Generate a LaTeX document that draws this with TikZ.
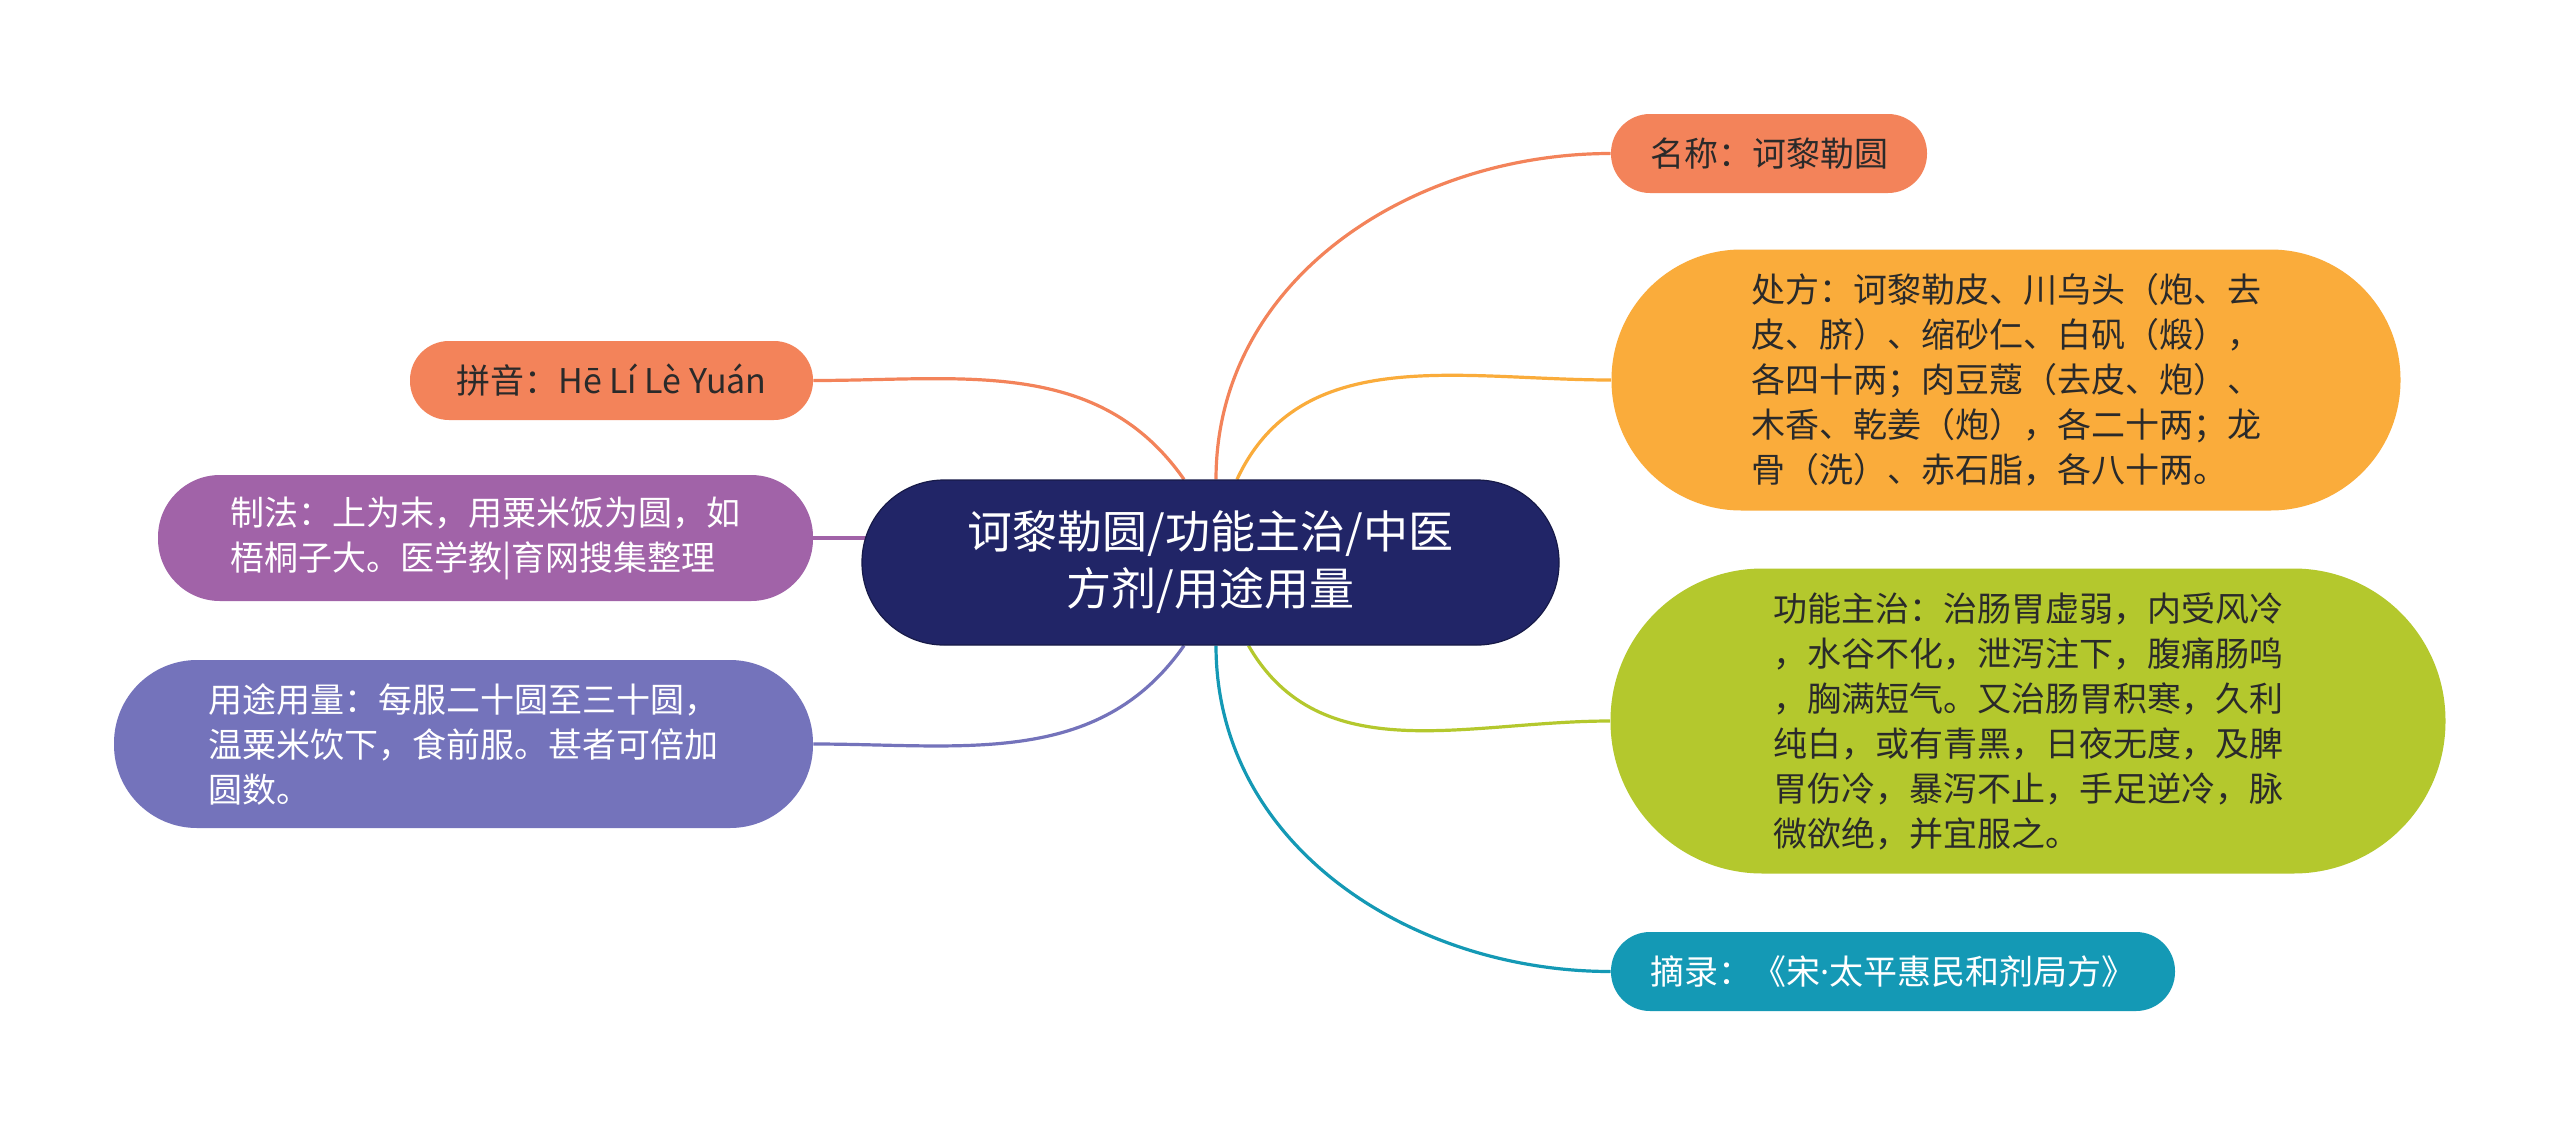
\documentclass[tikz,border=0pt]{standalone}
\usepackage{fontspec}
\setmainfont{Noto Sans CJK SC}
\newfontfamily\dotfont{Noto Sans}
\usetikzlibrary{backgrounds}
\definecolor{cSalmon}{HTML}{F3835A}
\definecolor{cOrange}{HTML}{FAAC3B}
\definecolor{cGreen}{HTML}{B4C82D}
\definecolor{cTeal}{HTML}{1499B5}
\definecolor{cPurple}{HTML}{A163A8}
\definecolor{cViolet}{HTML}{7473BB}
\definecolor{cNavy}{HTML}{212567}
\definecolor{cText}{HTML}{2A2A2A}
\begin{document}
\begin{tikzpicture}[x=0.5pt,y=-0.5pt,
  topic/.style={shape=rectangle, inner sep=0pt, align=left,
    font=\fontsize{17}{22.5}\selectfont, text=cText},
  link/.style={line width=1.6pt},
]
\useasboundingbox (0,0) rectangle (2560,1125);

\node[topic, fill=cNavy, draw=cNavy!70!black, line width=0.6pt, text=white, align=center,
  font=\fontsize{22.5}{28.5}\selectfont,
  minimum width=348.5pt, minimum height=82.5pt, rounded corners=41pt]
  (c) at (1210.5,562.5) {诃黎勒圆/功能主治/中医\\方剂/用途用量};

\node[topic, fill=cSalmon, minimum width=158pt, minimum height=39.5pt, rounded corners=19.5pt]
  (nm) at (1769,153.5) {名称：诃黎勒圆};
\node[topic, fill=cOrange, minimum width=394.5pt, minimum height=130.5pt, rounded corners=65pt]
  (cf) at (2006,380) {处方：诃黎勒皮、川乌头（炮、去\\皮、脐）、缩砂仁、白矾（煅），\\各四十两；肉豆蔻（去皮、炮）、\\木香、乾姜（炮），各二十两；龙\\骨（洗）、赤石脂，各八十两。};
\node[topic, fill=cGreen, minimum width=417.5pt, minimum height=152.5pt, rounded corners=76pt]
  (gn) at (2028,721) {功能主治：治肠胃虚弱，内受风冷\\，水谷不化，泄泻注下，腹痛肠鸣\\，胸满短气。又治肠胃积寒，久利\\纯白，或有青黑，日夜无度，及脾\\胃伤冷，暴泻不止，手足逆冷，脉\\微欲绝，并宜服之。};
\node[topic, fill=cTeal, text=white, minimum width=282pt, minimum height=39.5pt, rounded corners=19.5pt]
  (zl) at (1893,971.5) {摘录：《宋{\dotfont ·}太平惠民和剂局方》};

\node[topic, fill=cSalmon, minimum width=201.5pt, minimum height=39.5pt, rounded corners=19.5pt]
  (py) at (611.5,380.5) {拼音：Hē Lí Lè Yuán};
\node[topic, fill=cPurple, text=white, minimum width=327.5pt, minimum height=63pt, rounded corners=31pt]
  (zf) at (485.5,538) {制法：上为末，用粟米饭为圆，如\\梧桐子大。医学教|育网搜集整理};
\node[topic, fill=cViolet, text=white, minimum width=349.5pt, minimum height=84pt, rounded corners=41.5pt]
  (yt) at (463.5,744) {用途用量：每服二十圆至三十圆，\\温粟米饮下，食前服。甚者可倍加\\圆数。};

\coordinate (sPy) at ([xshift=-13.25pt]c.north);
\coordinate (sNm) at ([xshift=2.75pt]c.north);
\coordinate (sCf) at ([xshift=13.25pt]c.north);
\coordinate (sYt) at ([xshift=-13.25pt]c.south);
\coordinate (sZl) at ([xshift=2.75pt]c.south);
\coordinate (sGn) at ([xshift=19pt]c.south);
\coordinate (sZf) at ([xshift=3pt]c.west |- zf.east);

\begin{scope}[on background layer]
\fill[white] (0,0) rectangle (2560,1125);
\draw[link, cSalmon] (sNm) to[out=90,in=180] (nm.west);
\draw[link, cOrange] (sCf) to[out=65,in=180] (cf.west);
\draw[link, cGreen] (sGn) to[out=-60,in=180] (gn.west);
\draw[link, cTeal] (sZl) to[out=-90,in=180] (zl.west);
\draw[link, cSalmon] (sPy) to[out=125,in=0] (py.east);
\draw[link, cPurple] (sZf) -- (zf.east);
\draw[link, cViolet] (sYt) to[out=-125,in=0] (yt.east);
\end{scope}
\end{tikzpicture}
\end{document}
